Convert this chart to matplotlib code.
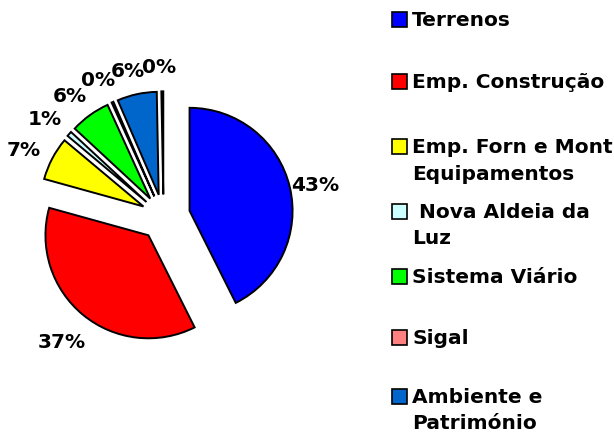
import matplotlib
matplotlib.use("Agg")
import matplotlib.pyplot as plt
from matplotlib.patches import Rectangle

# data (percent of total)
categories = ["Terrenos", "Emp. Construção", "Emp. Forn e Mont\nEquipamentos",
              " Nova Aldeia da\nLuz", "Sistema Viário", "Sigal",
              "Ambiente e\nPatrimónio", "Outros"]
shares = [42.6, 36.7, 6.8, 0.8, 6.3, 0.3, 6.2, 0.3]
colors = ["#0000FF", "#FF0000", "#FFFF00", "#CCFFFF", "#00FF00", "#FF8080",
          "#0066CC", "#FFFFFF"]
explode = [0.26, 0.23, 0.22, 0.22, 0.22, 0.22, 0.22, 0.22]
in_legend = 7  # the last entry is cut off in the original

W, H = 614, 437
R = 103.0          # pie radius in pixels
cx, cy = 163.5, 217.0  # pie centre, pixels from top-left

plt.rcParams["font.family"] = ["DejaVu Sans"]
plt.rcParams["font.weight"] = "bold"

fig = plt.figure(figsize=(W / 100, H / 100), dpi=100)
ax = fig.add_axes([0, 0, 1, 1])

wedges, texts, autotexts = ax.pie(
    shares,
    colors=colors,
    explode=explode,
    startangle=90,
    counterclock=False,
    radius=1.0,
    autopct=lambda p: f"{p:.0f}%",
    pctdistance=1.28,
    wedgeprops=dict(edgecolor="black", linewidth=1.4),
    textprops=dict(fontsize=14.5, fontweight="bold", color="black"),
)
# labels sit a little lower-left than the plain radial spot
for t in autotexts:
    x, y = t.get_position()
    t.set_position((x - 3 / R, y - 5 / R))

ax.set_xlim(-cx / R, (W - cx) / R)
ax.set_ylim(-(H - cy) / R, cy / R)
ax.set_aspect("auto")
ax.axis("off")

# legend drawn by hand (entries are spaced unevenly)
first_line_y = [19.5, 81.5, 146.5, 211, 276, 337, 396]
line_step = 26
box = 15
for i in range(in_legend):
    y0 = first_line_y[i]
    fig.patches.append(Rectangle(
        (392 / W, 1 - (y0 + box / 2) / H), box / W, box / H,
        transform=fig.transFigure, facecolor=colors[i], edgecolor="black",
        linewidth=1.2))
    for k, line in enumerate(categories[i].split("\n")):
        fig.text(412 / W, 1 - (y0 + k * line_step + 7) / H, line,
                 fontsize=14.5, fontweight="bold", va="baseline", ha="left")

fig.savefig("out.png", dpi=100)
